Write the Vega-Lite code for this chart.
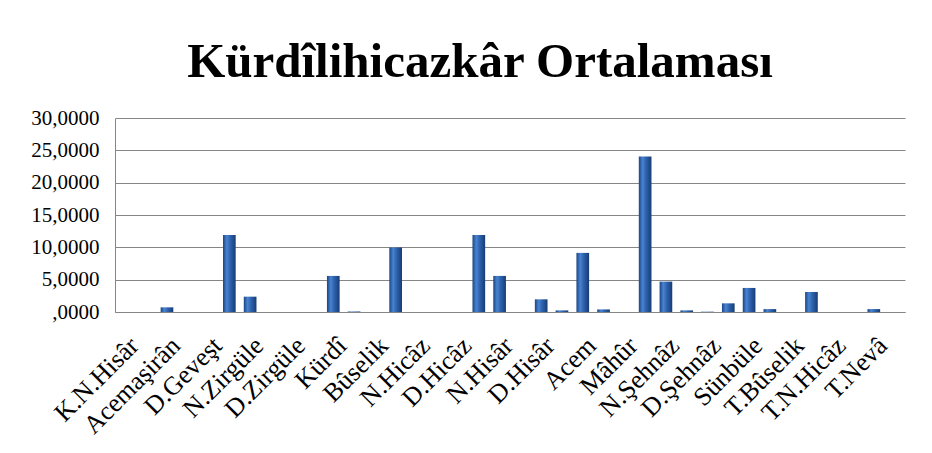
{
  "$schema": "https://vega.github.io/schema/vega-lite/v6.json",
  "width": 790,
  "height": 194,
  "autosize": {"type": "none"},
  "padding": {"left": 115, "top": 118, "right": 27, "bottom": 141},
  "background": "white",
  "title": {
    "text": "Kürdîlihicazkâr Ortalaması",
    "font": "Liberation Serif",
    "fontSize": 49,
    "fontWeight": "bold",
    "color": "black",
    "anchor": "middle",
    "frame": "group",
    "dx": -30,
    "offset": 20
  },
  "config": {
    "view": {"stroke": null},
    "axis": {"labelFont": "Liberation Serif", "labelColor": "black"}
  },
  "data": {
    "values": [
      {"perde": "K.N.Hisâr", "ortalama": 0},
      {"perde": "Hüseynîaşirân", "ortalama": 0},
      {"perde": "Acemaşirân", "ortalama": 0.72},
      {"perde": "Irak", "ortalama": 0},
      {"perde": "D.Geveşt", "ortalama": 0},
      {"perde": "Rast", "ortalama": 11.9},
      {"perde": "N.Zirgüle", "ortalama": 2.37},
      {"perde": "Zirgüle", "ortalama": 0},
      {"perde": "D.Zirgüle", "ortalama": 0},
      {"perde": "Dügâh", "ortalama": 0},
      {"perde": "Kürdî", "ortalama": 5.58},
      {"perde": "Segâh", "ortalama": 0.08},
      {"perde": "Bûselik", "ortalama": 0},
      {"perde": "Çârgâh", "ortalama": 9.96},
      {"perde": "N.Hicâz", "ortalama": 0},
      {"perde": "Hicâz", "ortalama": 0},
      {"perde": "D.Hicâz", "ortalama": 0},
      {"perde": "Nevâ", "ortalama": 11.9},
      {"perde": "N.Hisâr", "ortalama": 5.58},
      {"perde": "Hisâr", "ortalama": 0},
      {"perde": "D.Hisâr", "ortalama": 1.96},
      {"perde": "Hüseynî", "ortalama": 0.25},
      {"perde": "Acem", "ortalama": 9.14},
      {"perde": "Eviç", "ortalama": 0.4},
      {"perde": "Mâhûr", "ortalama": 0},
      {"perde": "Gerdâniye", "ortalama": 24.06},
      {"perde": "N.Şehnâz", "ortalama": 4.7},
      {"perde": "Şehnâz", "ortalama": 0.25},
      {"perde": "D.Şehnâz", "ortalama": 0.05},
      {"perde": "Muhayyer", "ortalama": 1.34},
      {"perde": "Sünbüle", "ortalama": 3.72},
      {"perde": "T.Segâh", "ortalama": 0.45},
      {"perde": "T.Bûselik", "ortalama": 0},
      {"perde": "T.Çârgâh", "ortalama": 3.1},
      {"perde": "T.N.Hicâz", "ortalama": 0},
      {"perde": "T.Hicâz", "ortalama": 0},
      {"perde": "T.Nevâ", "ortalama": 0.45},
      {"perde": "T.Hüseynî", "ortalama": 0}
    ]
  },
  "mark": {
    "type": "bar",
    "fill": {
      "gradient": "linear",
      "x1": 0, "x2": 1, "y1": 0, "y2": 0,
      "stops": [
        {"offset": 0, "color": "#1a4585"},
        {"offset": 0.3, "color": "#4a83d0"},
        {"offset": 0.55, "color": "#2f64b0"},
        {"offset": 1, "color": "#173c74"}
      ]
    }
  },
  "encoding": {
    "x": {
      "field": "perde",
      "type": "nominal",
      "sort": null,
      "scale": {"paddingInner": 0.39, "paddingOuter": 0.195},
      "axis": {
        "title": null,
        "values": ["K.N.Hisâr", "Acemaşirân", "D.Geveşt", "N.Zirgüle", "D.Zirgüle", "Kürdî", "Bûselik", "N.Hicâz", "D.Hicâz", "N.Hisâr", "D.Hisâr", "Acem", "Mâhûr", "N.Şehnâz", "D.Şehnâz", "Sünbüle", "T.Bûselik", "T.N.Hicâz", "T.Nevâ"],
        "labelAngle": -45,
        "labelFontSize": 26,
        "labelPadding": 20,
        "ticks": false,
        "domainColor": "#868686",
        "labelOverlap": false
      }
    },
    "y": {
      "field": "ortalama",
      "type": "quantitative",
      "scale": {"domain": [0, 30], "nice": false},
      "axis": {
        "title": null,
        "values": [0, 5, 10, 15, 20, 25, 30],
        "labelExpr": "datum.value == 0 ? ',0000' : replace(format(datum.value, '.4f'), '.', ',')",
        "labelFontSize": 21,
        "labelPadding": 16,
        "ticks": false,
        "gridColor": "#868686",
        "gridOpacity": 1,
        "domainColor": "#868686"
      }
    }
  }
}
